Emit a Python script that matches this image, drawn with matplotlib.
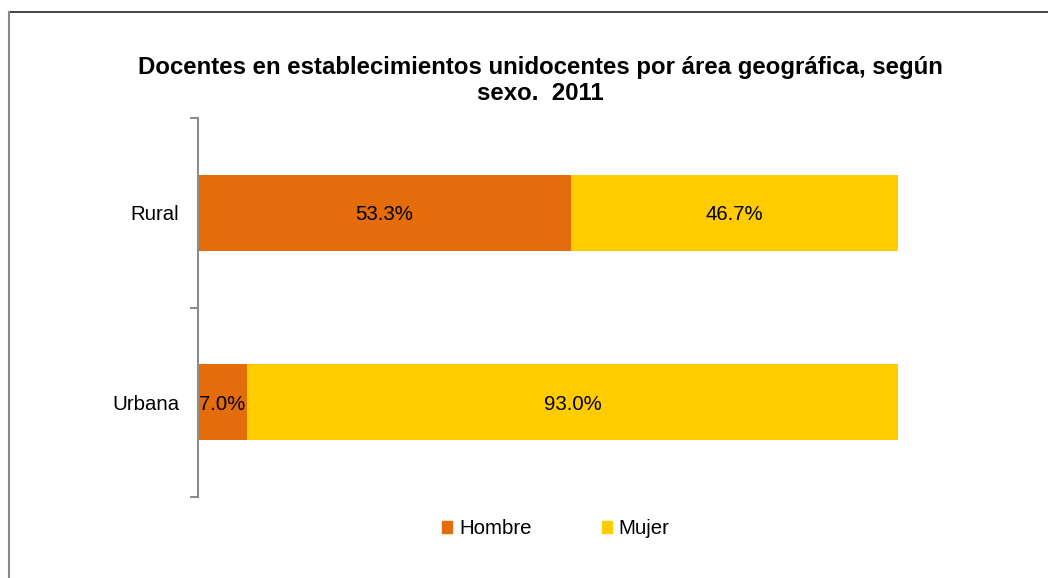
import matplotlib
matplotlib.use("Agg")
import matplotlib.pyplot as plt
from matplotlib.lines import Line2D
from matplotlib.patches import Patch

categories = ["Urbana", "Rural"]
hombre = [7.0, 53.3]
mujer = [93.0, 46.7]
series_names = ["Hombre", "Mujer"]
colors = ["#E46C0A", "#FFCC00"]
title = "Docentes en establecimientos unidocentes por área geográfica, según\nsexo.  2011"

plt.rcParams['font.family'] = ['Liberation Sans', 'DejaVu Sans']

W, H = 1048, 578
fig = plt.figure(figsize=(W/100, H/100), dpi=100)
ax = fig.add_axes([198/W, (H-497)/H, 700/W, (497-118)/H])

y = list(range(len(categories)))
ax.barh(y, hombre, height=0.40, color=colors[0], label=series_names[0])
ax.barh(y, mujer, left=hombre, height=0.40, color=colors[1], label=series_names[1])

fs = 14.7
for i in y:
    ax.text(hombre[i]/2, i, f"{hombre[i]:.1f}%", ha="center", va="center_baseline", fontsize=fs)
    ax.text(hombre[i] + mujer[i]/2, i, f"{mujer[i]:.1f}%", ha="center", va="center_baseline", fontsize=fs)

ax.set_xlim(0, 100)
ax.set_ylim(-0.5, len(categories)-0.5)
ax.set_xticks([])
ax.set_yticks(y)
ax.set_yticklabels(categories, fontsize=fs)
ax.tick_params(axis='y', which='major', length=0, pad=13.5)
ax.set_yticks([-0.5, 0.5, 1.5], minor=True)
ax.tick_params(axis='y', which='minor', length=6, width=1.5, color='#8c8c8c')
for s in ["top", "right", "bottom"]:
    ax.spines[s].set_visible(False)
ax.spines["left"].set_color('#8c8c8c')
ax.spines["left"].set_linewidth(1.5)

fig.text(540/W, 1-56/H, title, ha="center", va="top", fontsize=17.25, fontweight="bold", linespacing=1.15)

handles = [Patch(color=c) for c in colors]
leg = fig.legend(handles, series_names, loc="center", bbox_to_anchor=(556/W, 1-529/H),
                 ncol=2, frameon=False, fontsize=fs, handlelength=0.5, handleheight=0.5,
                 handletextpad=0.35, columnspacing=3.4)

# outer border (top and left)
fig.add_artist(Line2D([8.5/W, 1], [1-12/H, 1-12/H], color='#222222', lw=1.2, transform=fig.transFigure))
fig.add_artist(Line2D([8.5/W, 8.5/W], [0, 1-12/H], color='#888888', lw=1.5, transform=fig.transFigure))

fig.savefig("out.png", dpi=100)
